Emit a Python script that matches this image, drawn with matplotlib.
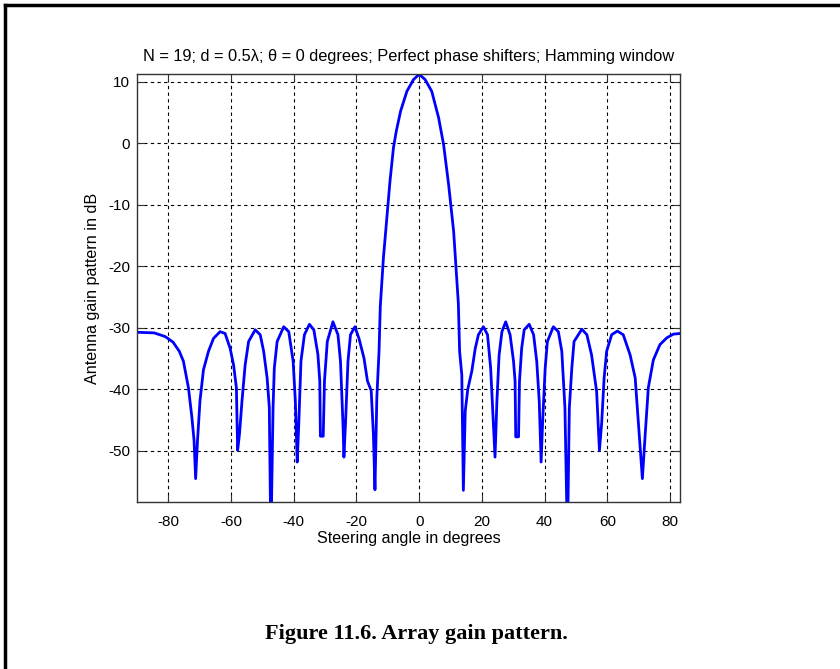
import matplotlib
matplotlib.use("Agg")
import matplotlib.pyplot as plt
from matplotlib.lines import Line2D

plt.rcParams['font.family'] = ['Liberation Sans', 'DejaVu Sans']
plt.rcParams['axes.unicode_minus'] = False

# steering angle (deg) and gain (dB)
angle_deg = [
    -90, -84.5, -81, -78.5, -76.5, -75.2, -73.6, -72.5, -71.8, -71.3, -70.7, -69.9,
    -68.8, -67.2, -65.6, -63.5, -61.9, -60.3, -59.2, -58.3, -57.9, -57.3,
    -56.5, -55.5, -54.4, -52.3, -50.7, -49.6, -48.5, -47.8, -47.3, -46.6,
    -46.2, -45.3, -43.2, -41.6, -40.2, -39.5, -38.9, -38.4, -37.7, -36.6,
    -35.0, -33.6, -32.3, -31.7, -31.5, -30.6, -30.2, -29.3, -27.5, -25.9,
    -25.1, -24.3, -24.0, -23.5, -22.7, -21.9, -20.5, -19.2, -17.6, -16.5,
    -15.3, -14.6, -14.1, -13.5, -12.8, -12.4, -11.4, -10.3, -9.3, -8.2,
    -7.3, -5.9, -3.9, -1.8, 0, 1.9, 4.0, 6.2, 7.8, 9.4, 11.0, 12.5,
    12.9, 13.6, 14.1, 14.7, 15.5, 16.8, 17.9, 18.9, 20.5, 21.8, 22.8, 23.7,
    24.2, 24.8, 25.5, 26.4, 27.6, 29.0, 30.1, 30.6, 30.8, 31.7, 32.0, 32.7,
    33.5, 35.1, 36.5, 37.5, 38.3, 38.9, 39.4, 40.2, 40.9, 42.8, 44.4, 45.5,
    46.5, 47.3, 47.9, 48.7, 49.4, 51.9, 53.5, 55.0, 56.6, 57.5, 58.2, 59.0,
    59.8, 61.4, 63.2, 65.1, 67.3, 68.9, 70.2, 71.2, 72.1, 73.1, 74.7, 76.8,
    79.0, 81.1, 83.2,
]
gain_db = [
    -30.7, -30.8, -31.4, -32.3, -33.8, -35.4, -39.7, -44.5, -48.3, -54.5, -48.3, -41.8,
    -36.8, -33.8, -31.7, -30.6, -30.9, -33.3, -36.0, -39.7, -49.9, -47.2,
    -41.8, -36.0, -32.2, -30.3, -31.1, -33.8, -38.1, -42.9, -65.0, -42.9,
    -36.5, -32.2, -29.8, -30.6, -35.4, -41.8, -51.8, -45.6, -35.4, -31.1,
    -29.4, -30.3, -34.3, -38.6, -47.6, -47.6, -38.6, -32.2, -29.0, -31.1,
    -35.4, -45.6, -51.0, -45.6, -35.4, -31.1, -29.8, -31.7, -34.9, -38.6,
    -40.2, -47.2, -56.3, -41.3, -33.8, -26.5, -18.6, -12.1, -6.1, -0.7,
    2.0, 5.3, 8.5, 10.4, 11.25, 10.4, 8.5, 4.2, -0.2, -6.7, -14.3, -26.0,
    -33.8, -37.6, -56.4, -43.5, -40.0, -37.0, -33.3, -31.1, -29.8, -31.1, -36.5, -45.6,
    -51.0, -41.9, -34.4, -30.6, -29.0, -31.1, -35.4, -38.7, -47.7, -47.7, -38.7, -33.3,
    -30.3, -29.4, -31.1, -35.4, -41.9, -51.8, -45.1, -36.5, -32.2, -29.8, -30.6, -33.8,
    -43.0, -65.0, -43.0, -36.5, -32.2, -30.2, -31.1, -34.4, -40.3, -49.9, -45.6, -38.1,
    -33.8, -31.1, -30.5, -31.1, -34.4, -38.1, -47.3, -54.5, -47.3, -39.7, -35.2, -32.7,
    -31.6, -31.0, -30.9,
]
xticks = [-80, -60, -40, -20, 0, 20, 40, 60, 80]
yticks = [-50, -40, -30, -20, -10, 0, 10]

fig = plt.figure(figsize=(8.4, 6.69), dpi=100)
ax = fig.add_axes([137/840, 1-502/669, (680-137)/840, (502-74)/669])

ax.plot(angle_deg, gain_db, color='#0000ff', lw=2, solid_joinstyle='round')
ax.set_xlim(-90, 83.2)
ax.set_ylim(-58.3, 11.3)
ax.set_xticks(xticks)
ax.set_yticks(yticks)
ax.grid(True, color='black', linestyle=(0, (3, 3)), linewidth=0.8)
ax.tick_params(direction='in', length=5, top=True, right=True, labelsize=11,
               color='#333333')
ax.tick_params(axis='x', pad=9)
ax.tick_params(axis='y', pad=5)
for s in ax.spines.values():
    s.set_color('#333333')
    s.set_linewidth(1)

ax.set_title('N = 19; d = 0.5\u03bb; \u03b8 = 0 degrees; Perfect phase shifters; Hamming window',
             fontsize=11.8, pad=9.5)
ax.set_xlabel('Steering angle in degrees', fontsize=11.6, labelpad=2)
ax.set_ylabel('Antenna gain pattern in dB', fontsize=11.6, labelpad=6)

fig.text(416/840, 1-634/669, 'Figure 11.6. Array gain pattern.', ha='center', va='center',
         family='Liberation Serif', fontweight='bold', fontsize=16)

# page frame: top and left edges only
fig.add_artist(Line2D([4.5/840, 4.5/840], [0, 1-4.5/669], transform=fig.transFigure,
                      color='black', lw=2.5))
fig.add_artist(Line2D([4.5/840, 1], [1-4.5/669, 1-4.5/669], transform=fig.transFigure,
                      color='black', lw=2.5))

fig.savefig('out.png', dpi=100)
